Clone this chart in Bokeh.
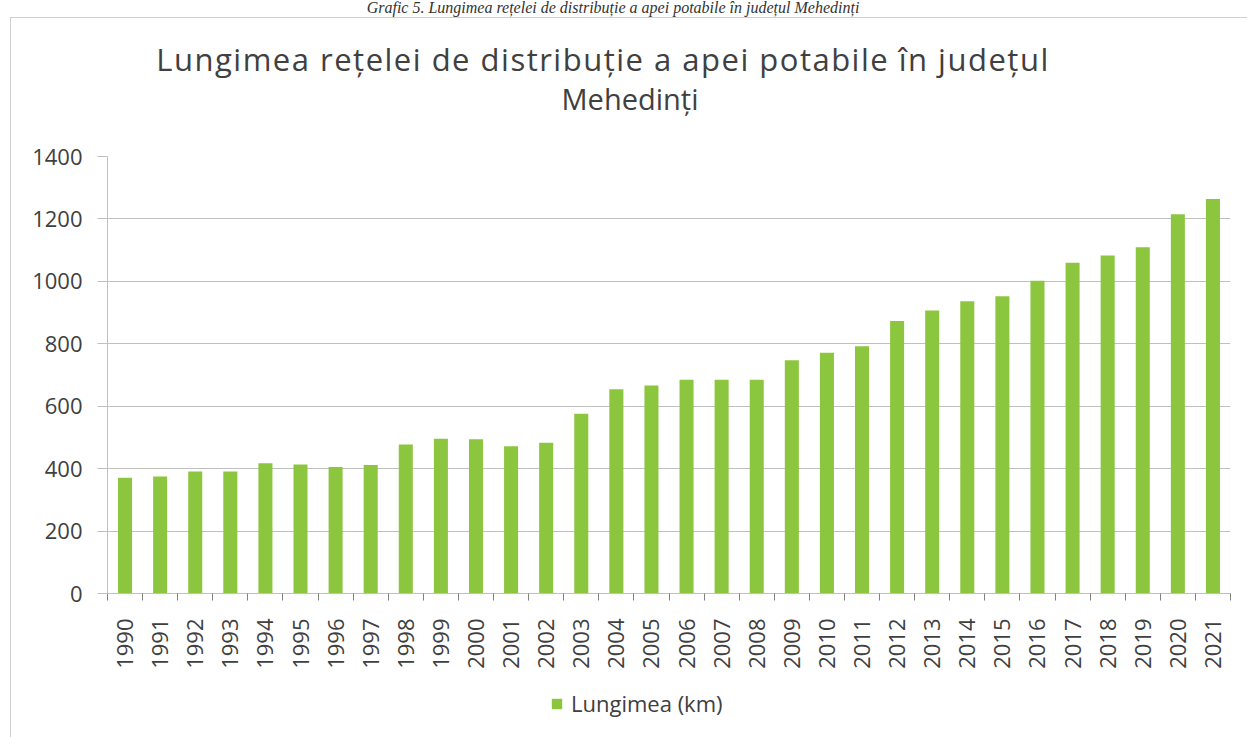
import math
from bokeh.plotting import figure
from bokeh.layouts import column
from bokeh.models import (Range1d, FixedTicker, Legend, LegendItem,
                          ColumnDataSource, Div)
from bokeh.embed import file_html
from bokeh.resources import INLINE

# ---- data ----
years = [1990, 1991, 1992, 1993, 1994, 1995, 1996, 1997, 1998, 1999,
         2000, 2001, 2002, 2003, 2004, 2005, 2006, 2007, 2008, 2009,
         2010, 2011, 2012, 2013, 2014, 2015, 2016, 2017, 2018, 2019,
         2020, 2021]
lengths_km = [371, 375, 391, 391, 417, 413, 405, 412, 477, 496,
              494, 472, 483, 576, 654, 666, 685, 685, 685, 747,
              771, 792, 873, 907, 936, 952, 1002, 1060, 1083, 1109,
              1215, 1264]
y_ticks = [0, 200, 400, 600, 800, 1000, 1200, 1400]
series_name = "Lungimea (km)"
title_line1 = "Lungimea rețelei de distribuție a apei potabile în județul"
title_line2 = "Mehedinți"
caption = "Grafic 5. Lungimea rețelei de distribuție a apei potabile în județul Mehedinți"

# ---- styles ----
FONT = "Open Sans"
TEXT = "#404040"
GRID = "#c0c0c0"
BOX = "#d0d0d0"
GREEN = "#8cc63f"

W, H = 1247, 737
HEAD_H = 120
MAIN_H = 560
LEG_H = H - HEAD_H - MAIN_H

left_line = {"background-image": f"linear-gradient({BOX}, {BOX})",
             "background-repeat": "no-repeat",
             "background-size": "1px 100%",
             "background-position": "10px 0px",
             "background-color": "white"}

header_html = f"""
<div style="position:relative;width:{W}px;height:{HEAD_H}px;">
  <div style="position:absolute;left:613px;top:0px;transform:translateX(-50%);white-space:nowrap;
       font-family:'Liberation Serif';font-style:italic;font-size:16px;line-height:16px;color:#333333;">{caption}</div>
  <div style="position:absolute;left:10px;top:17px;width:{W}px;height:1px;background:{BOX};"></div>
  <div style="position:absolute;left:10px;top:17px;width:1px;height:{HEAD_H}px;background:{BOX};"></div>
  <div style="position:absolute;left:603px;top:44px;transform:translateX(-50%);white-space:nowrap;
       font-family:'{FONT}';font-size:31px;line-height:30px;letter-spacing:1.5px;color:{TEXT};">{title_line1}</div>
  <div style="position:absolute;left:630px;top:84px;transform:translateX(-50%);white-space:nowrap;
       font-family:'{FONT}';font-size:29px;line-height:29px;color:{TEXT};">{title_line2}</div>
</div>
"""
header = Div(text=header_html, width=W, height=HEAD_H,
             styles={"overflow": "visible", "margin": "0", "padding": "0"})

# ---- main chart ----
p = figure(width=W, height=MAIN_H, output_backend="svg", toolbar_location=None,
           title=None,
           x_range=Range1d(years[0] - 0.5, years[-1] + 0.5),
           y_range=Range1d(y_ticks[0], y_ticks[-1]),
           min_border_left=107, min_border_right=17,
           min_border_top=36, min_border_bottom=87)
p.outline_line_color = None
p.background_fill_color = "white"
p.border_fill_color = None
p.styles = dict(left_line)

src = ColumnDataSource(dict(year=years, km=lengths_km))
bars = p.vbar(x="year", top="km", width=0.4, source=src,
              fill_color=GREEN, line_color=None)

boundaries = [y - 0.5 for y in years] + [years[-1] + 0.5]
p.xaxis.ticker = FixedTicker(ticks=years, minor_ticks=boundaries)
p.xaxis.major_label_orientation = math.pi / 2
p.xaxis.major_label_text_font = FONT
p.xaxis.major_label_text_font_size = "22px"
p.xaxis.major_label_text_color = TEXT
p.xaxis.major_tick_line_color = None
p.xaxis.major_tick_out = 0
p.xaxis.major_tick_in = 0
p.xaxis.minor_tick_out = 7
p.xaxis.minor_tick_in = 0
p.xaxis.minor_tick_line_color = "#808080"
p.xaxis.axis_line_color = GRID
p.xaxis.major_label_standoff = 18

p.yaxis.ticker = FixedTicker(ticks=y_ticks, minor_ticks=[])
p.yaxis.major_label_text_font = FONT
p.yaxis.major_label_text_font_size = "22px"
p.yaxis.major_label_text_color = TEXT
p.yaxis.axis_line_color = GRID
p.yaxis.major_tick_line_color = GRID
p.yaxis.major_tick_out = 10
p.yaxis.major_tick_in = 0
p.yaxis.minor_tick_line_color = None
p.yaxis.major_label_standoff = 15

p.xgrid.grid_line_color = None
p.ygrid.ticker = FixedTicker(ticks=y_ticks)
p.ygrid.grid_line_color = GRID
p.ygrid.grid_line_width = 1

# ---- legend strip (own small figure; the series lies below its view,
#      only its legend swatch shows) ----
lg = figure(width=W, height=LEG_H, output_backend="svg", toolbar_location=None,
            title=None, x_axis_type=None, y_axis_type=None,
            x_range=Range1d(years[0] - 0.5, years[-1] + 0.5),
            y_range=Range1d(1500, 3000),
            min_border_left=0, min_border_right=0,
            min_border_top=0, min_border_bottom=0)
lg.outline_line_color = None
lg.background_fill_color = None
lg.border_fill_color = None
lg.styles = dict(left_line)
swatch = lg.vbar(x="year", top="km", width=0.4, source=src,
                 fill_color=GREEN, line_color=None)
legend = Legend(items=[LegendItem(label=series_name, renderers=[swatch])],
                location=(443, 19), orientation="horizontal",
                label_text_font=FONT, label_text_font_size="22px",
                label_text_color=TEXT, glyph_width=13, glyph_height=13,
                label_standoff=8, padding=0, margin=0,
                border_line_color=None, background_fill_alpha=0)
lg.add_layout(legend, "center")

layout = column(header, p, lg, spacing=0)
open("out.html", "w").write(file_html(layout, INLINE))
